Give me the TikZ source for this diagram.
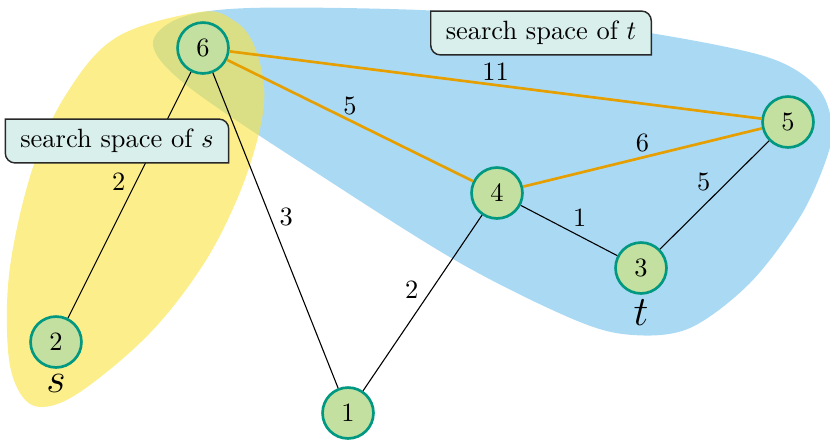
\documentclass[tikz,border=0pt]{standalone}
\usepackage{xcolor}
\usepackage{tikz}
\usetikzlibrary{positioning,calc}
\definecolor{ssblue}{RGB}{86,180,233}
\definecolor{ssyellow}{RGB}{250,227,60}
\definecolor{ssgreen}{RGB}{0,152,128}
\definecolor{ssorange}{RGB}{230,159,0}
\definecolor{ssnode}{RGB}{196,224,160}
\definecolor{ssbox}{RGB}{217,239,236}
\definecolor{ssdark}{RGB}{40,40,40}
\pgfdeclarelayer{front}
\pgfsetlayers{main,front}

\begin{document}
\begin{tikzpicture}[x=0.0145cm, y=-0.0145cm,
  every node/.style={font=\fontsize{10.9pt}{13pt}\selectfont},
  vert/.style={circle, draw=ssgreen, line width=1.1pt, fill=ssnode,
               minimum size=21pt, inner sep=0pt},
  edge/.style={draw=black, line width=0.45pt},
  short/.style={draw=ssorange, line width=1.1pt},
  wt/.style={inner sep=1.5pt},
  spacebox/.style={inner xsep=6pt, minimum height=17.7pt},
  boxline/.style={draw=ssdark, fill=ssbox, line width=0.6pt},
  tag/.style={font=\LARGE, inner sep=2pt},
]
\useasboundingbox (0,0) rectangle (830,441);

% search spaces
\fill[ssblue, opacity=0.5] plot[smooth cycle, tension=0.55] coordinates {
  (153,45) (180,18) (250,8) (420,10) (540,20) (650,33) (767,57)
  (817,87) (832,125) (826,160) (800,217) (750,283) (690,328) (633,335)
  (575,320) (460,263) (320,175) (190,88)};
\fill[ssyellow, opacity=0.6] plot[smooth cycle, tension=0.6] coordinates {
  (200,12) (117,37) (67,93) (33,167) (10,267) (8,350) (20,393) (43,407)
  (83,390) (150,333) (203,265) (238,197) (259,133) (264,87) (253,43) (233,20)};

% vertices
\node[vert] (v6) at (203,48) {6};
\node[vert] (v5) at (788,122) {5};
\node[vert] (v4) at (497,193) {4};
\node[vert] (v3) at (641,268) {3};
\node[vert] (v2) at (56,342) {2};
\node[vert] (v1) at (348,413) {1};

\node[tag, below=0pt of v2] (s) {$s$};
\node[tag, below=0pt of v3] (t) {$t$};

% edges
\draw[short] (v6) -- node[wt, above] {11} (v5);
\draw[short] (v6) -- node[wt, above] {5} (v4);
\draw[short] (v4) -- node[wt, above] {6} (v5);
\draw[edge] (v3) -- node[wt, above left] {5} (v5);
\draw[edge] (v4) -- node[wt, above right] {1} (v3);
\draw[edge] (v6) -- node[wt, above left] {2} (v2);
\draw[edge] (v6) -- node[wt, above right] {3} (v1);
\draw[edge] (v4) -- node[wt, above left] {2} (v1);

% labels of the search spaces
\begin{pgfonlayer}{front}
\node[spacebox] (sbox) at (117,141) {search space of $s$};
\node[spacebox] (tbox) at (541,33) {search space of $t$};
\end{pgfonlayer}
\foreach \b in {sbox,tbox}
  \path[boxline] (\b.north west) [rounded corners=4pt] -- (\b.north east)
    [sharp corners] -- (\b.south east) [rounded corners=4pt] -- (\b.south west)
    [sharp corners] -- cycle;
\end{tikzpicture}
\end{document}
